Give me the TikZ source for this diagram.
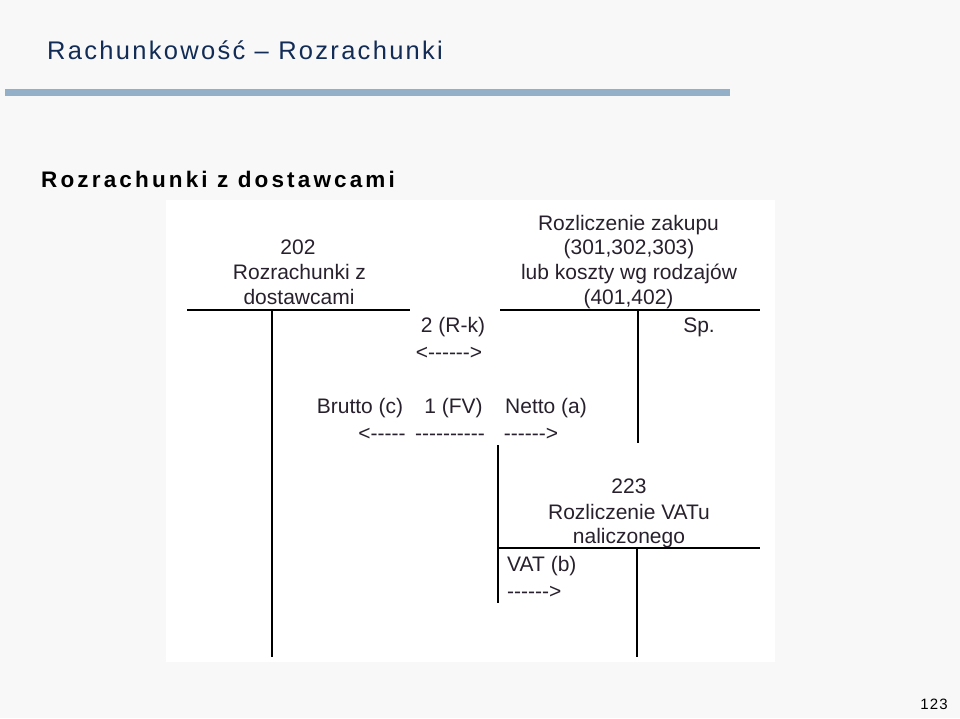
\documentclass[tikz,border=0pt]{standalone}
\usepackage{fontspec}
\setmainfont{Liberation Sans}
\newfontfamily\arial{Liberation Sans}
\newfontfamily\arialsp[LetterSpace=14]{Liberation Sans}
\newfontfamily\arialtt[LetterSpace=9]{Liberation Sans}
\newfontfamily\arialpg[LetterSpace=8]{Liberation Sans}
\definecolor{slidebg}{RGB}{248,248,248}
\definecolor{barblue}{RGB}{148,175,200}
\definecolor{titleblue}{RGB}{18,44,86}
\definecolor{diag}{RGB}{40,33,45}
\begin{document}
\begin{tikzpicture}[x=1pt,y=-1pt,
  txt/.style={font=\arial\fontsize{21}{25}\selectfont, text=diag, inner sep=0pt, anchor=base},
  txtw/.style={txt, anchor=base west},
  tline/.style={line width=1.8pt, draw=black}]
\useasboundingbox (0,0) rectangle (960,718);
\fill[slidebg] (0,0) rectangle (960,718);
\fill[white] (166,200) rectangle (775,662);
\fill[barblue] (5,89) rectangle (730,96);
% titles
\node[anchor=base west, inner sep=0pt, text=titleblue, font=\arialtt\fontsize{25.5}{29}\selectfont] (title) at (47,59.5) {Rachunkowość – Rozrachunki};
\node[anchor=base west, inner sep=0pt, text=black, font=\arialsp\bfseries\fontsize{22.5}{26}\selectfont] (heading) at (41,187) {Rozrachunki z dostawcami};
\node[anchor=base east, inner sep=0pt, text=black, font=\arialpg\fontsize{15}{17}\selectfont] (pageno) at (948,709) {123};
% account 202
\node[txt] (a202) at (298,254) {202};
\node[txt] (a202b) at (299.5,279) {Rozrachunki z};
\node[txt] (a202c) at (299,304) {dostawcami};
\draw[tline] (187,310) -- (410,310);
\draw[tline] (272,310) -- (272,657);
% purchase account
\node[txt] (p1) at (628.5,230) {Rozliczenie zakupu};
\node[txt] (p2) at (629,254) {(301,302,303)};
\node[txt] (p3) at (629,279) {lub koszty wg rodzajów};
\node[txt] (p4) at (628.5,304) {(401,402)};
\draw[tline] (500,310) -- (760,310);
\draw[tline] (638,310) -- (638,443);
\node[txt] (sp) at (699,332) {Sp.};
% operations
\node[txt] (op2) at (453,332) {2 (R-k)};
\node[txt] (op2a) at (449,359) {<------>};
\node[txt] (brutto) at (360,413) {Brutto (c)};
\node[txt] (op1) at (453.5,413) {1 (FV)};
\node[txt] (netto) at (546,413) {Netto (a)};
\node[txt] (ar1) at (382,440) {<-----};
\node[txt] (ar2) at (450,440) {----------};
\node[txt] (ar3) at (531,440) {------>};
% account 223
\node[txt] (v1) at (629,493) {223};
\node[txt] (v2) at (629,519) {Rozliczenie VATu};
\node[txt] (v3) at (629,543) {naliczonego};
\draw[tline] (498,548) -- (760,548);
\draw[tline] (498,445) -- (498,603);
\draw[tline] (637,548) -- (637,657);
\node[txtw] (vat) at (507,571) {VAT (b)};
\node[txtw] (vatar) at (507,598) {------>};
\end{tikzpicture}
\end{document}
